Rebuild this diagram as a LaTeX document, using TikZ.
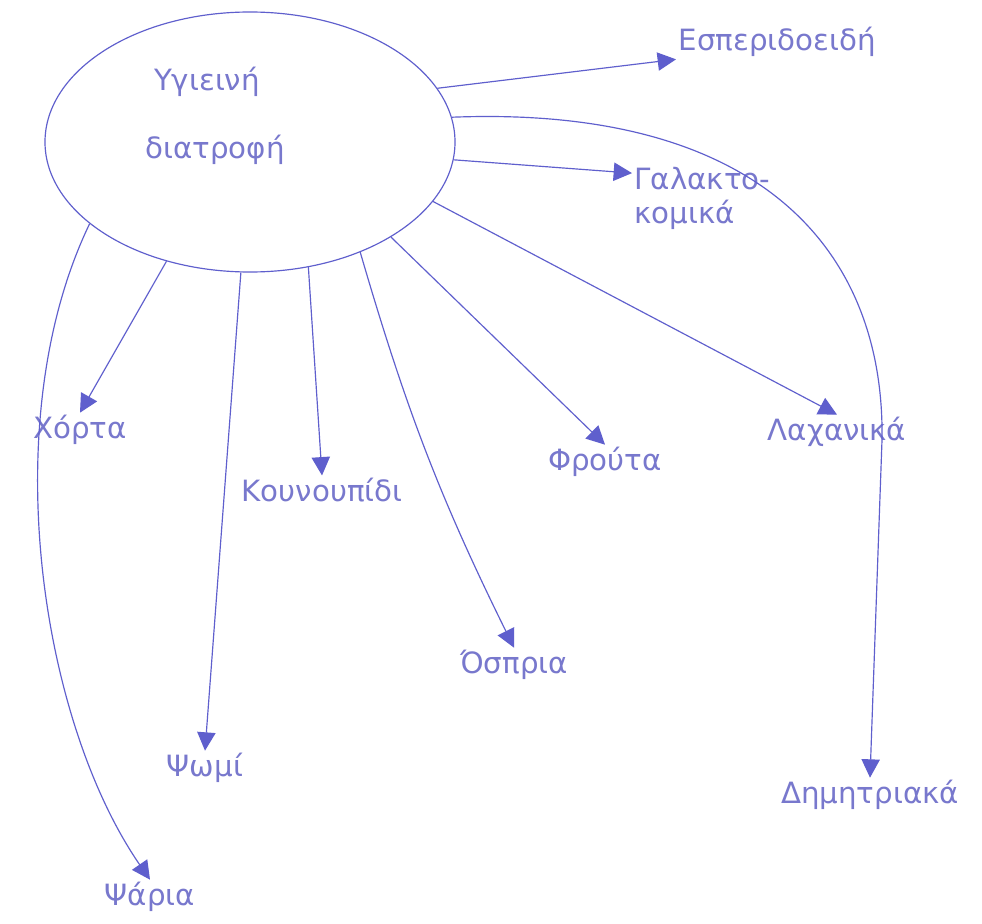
\documentclass[tikz,border=0pt]{standalone}
\usepackage{fontspec}
\setmainfont{DejaVu Sans}
\usetikzlibrary{shapes,arrows,arrows.meta,calc}
\definecolor{ink}{RGB}{95,95,205}
\definecolor{inktext}{RGB}{120,120,205}
\tikzstyle{line} = [draw=ink, line width=1pt, -{Triangle[length=5.5mm,width=5.5mm]}]
\tikzstyle{bubble} = [draw=ink, line width=1pt, ellipse, minimum width=12.3cm, minimum height=7.8cm]
\tikzstyle{food} = [text=inktext, font=\fontsize{25}{29}\selectfont, inner sep=2pt]

\begin{document}
\begin{tikzpicture}[x=0.03cm, y=-0.03cm]
        \fill[white] (0,0) rectangle (982,923);
        \useasboundingbox (0,0) rectangle (982,923);
        \node[bubble] (diet) at (250,142) {};
        \node[food] (ygieini) at (207,82) {Υγιεινή};
        \node[food] (diatrofi) at (215,150) {διατροφή};
        \node[food, anchor=west] (esp) at (676,42) {Εσπεριδοειδή};
        \node[food, anchor=north west, align=left] (galakt) at (632,165) {Γαλακτο-\\κομικά};
        \node[food] (dimit) at (870,795) {Δημητριακά};
        \node[food] (lax) at (837,432) {Λαχανικά};
        \node[food] (frou) at (605,462) {Φρούτα};
        \node[food] (osp) at (514,665) {Όσπρια};
        \node[food] (koun) at (322,490) {Κουνουπίδι};
        \node[food] (psomi) at (205,768) {Ψωμί};
        \node[food] (xorta) at (80,430) {Χόρτα};
        \node[food] (psaria) at (150,897) {Ψάρια};
        \path[line] (diet.16) -- (esp.south west);
        \path[line] (diet.-5) -- (galakt.160);
        \path[line] (diet.7) .. controls (760,105) and (885,250) .. (882,440) -- (dimit.north);
        \path[line] (diet.-18) -- (lax.north);
        \path[line] (diet.-34) -- (frou.north);
        \path[line] (diet.-45) to[bend right=5] (osp.north);
        \path[line] (diet.-65) -- (koun.north);
        \path[line] (diet.-94) -- (psomi.north);
        \path[line] (diet.-125) -- (xorta.north);
        \path[line] (diet.207) .. controls (-5,420) and (40,720) .. (psaria.north);
    \end{tikzpicture}
\end{document}
